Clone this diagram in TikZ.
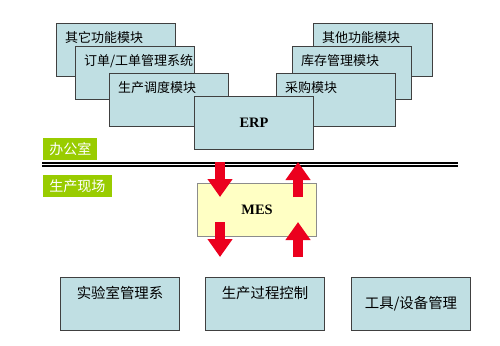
\documentclass[tikz,border=0pt]{standalone}
\usepackage{fontspec}
\setmainfont{Liberation Serif}
\newfontfamily\cjk{Noto Sans CJK SC}
\usepackage{xcolor}
\usepackage{tikz}
\usetikzlibrary{positioning, arrows.meta, calc}

\definecolor{boxblue}{RGB}{192,223,227}
\definecolor{mesyellow}{RGB}{255,255,196}
\definecolor{zonegreen}{RGB}{153,204,0}
\definecolor{arrowred}{RGB}{235,0,30}

\begin{document}
\begin{tikzpicture}[
      x=0.02cm, y=-0.02cm,
      modbox/.style={draw=black!75, line width=0.6pt, fill=boxblue, anchor=north west,
        minimum width=2.38cm, minimum height=1.06cm, inner sep=0pt},
      modlabel/.style={anchor=west, xshift=5pt, yshift=-8.5pt, inner sep=0pt,
        font=\cjk\fontsize{7.4}{9}\selectfont},
      toplabel/.style={anchor=center, yshift=-9pt, inner sep=0pt,
        font=\cjk\fontsize{8.2}{10}\selectfont},
      sysbox/.style={modbox, font=\bfseries\fontsize{8.2}{10}\selectfont},
      zone/.style={fill=zonegreen, text=white, anchor=north west, inner xsep=3.4pt,
        inner ysep=0pt, minimum height=0.44cm, font=\cjk\fontsize{8}{10}\selectfont},
      blockarrow/.style={arrowred, line width=0.2cm,
        -{Triangle[width=0.48cm, length=0.36cm]}},
    ]

    \useasboundingbox (0,0) rectangle (500,345);

    % ERP modules, back to front
    \node[modbox, label={[modlabel]north west:其它功能模块}] (other) at (56,23) {};
    \node[modbox, label={[modlabel]north west:订单/工单管理系统}] (order) at (75,46) {};
    \node[modbox, label={[modlabel]north west:生产调度模块}] (sched) at (109,73) {};

    \node[modbox, label={[modlabel]north west:其他功能模块}] (other2) at (313,23) {};
    \node[modbox, label={[modlabel]north west:库存管理模块}] (stock) at (292,46) {};
    \node[modbox, label={[modlabel]north west:采购模块}] (purch) at (276,73) {};

    \node[sysbox] (erp) at (194,96) {ERP};

    % office / shop floor
    \node[zone] (office) at (43,138) {办公室};
    \node[zone] (floor) at (43,175) {生产现场};
    \draw[line width=0.8pt, double, double distance=0.9pt] (42,164.5) -- (458,164.5);

    \node[sysbox, fill=mesyellow, draw=black!45] (mes) at (197,183) {MES};

    \node[modbox, label={[toplabel]north:实验室管理系}] (lab) at (60,277) {};
    \node[modbox, label={[toplabel]north:生产过程控制}] (proc) at (205,277) {};
    \node[modbox, font=\cjk\fontsize{8.2}{10}\selectfont] (tool) at (351,277) {工具/设备管理};

    \coordinate (erpL) at ($(erp.south)+(-34,12)$);
    \coordinate (erpR) at ($(erp.south)+(44,12)$);

    \draw[blockarrow] (erpL) -- ($(erpL |- mes.north)+(0,14)$);
    \draw[blockarrow] ($(erpR |- mes.north)+(0,14)$) -- (erpR);
    \draw[blockarrow] ($(erpL |- mes.south)+(0,-15)$) -- ($(erpL |- proc.north)+(0,-20)$);
    \draw[blockarrow] ($(erpR |- proc.north)+(0,-20)$) -- ($(erpR |- mes.south)+(0,-15)$);

  \end{tikzpicture}
\end{document}
